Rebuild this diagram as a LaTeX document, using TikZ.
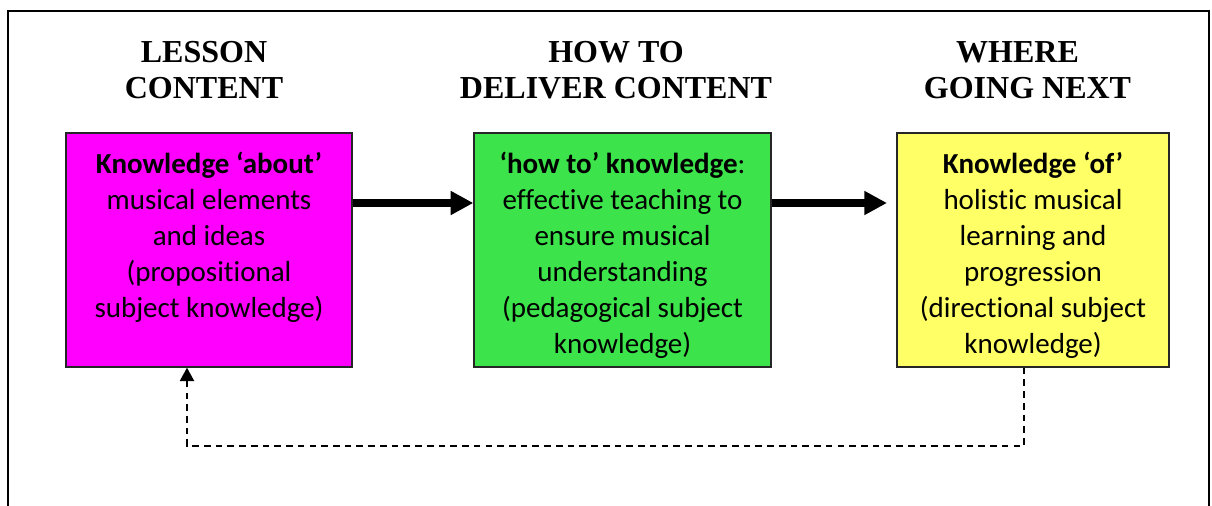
\documentclass[tikz,border=0pt]{standalone}
\usepackage{fontspec}
\setmainfont{Liberation Serif}
\newfontfamily\boxfont[RawFeature={-liga;-clig;-dlig;-calt}]{Carlito}
\usetikzlibrary{arrows.meta}
\definecolor{magbox}{HTML}{FF00FF}
\definecolor{grnbox}{HTML}{3CE34B}
\definecolor{ylwbox}{HTML}{FFFF66}
\begin{document}
\begin{tikzpicture}[x=0.75pt,y=-0.75pt,
  heading/.style={font=\fontsize{24pt}{27pt}\selectfont\bfseries, align=center, anchor=north, inner sep=0pt},
  kbox/.style={draw=black!85, line width=1pt, minimum height=175.5pt, inner sep=0pt},
  ktext/.style={font=\boxfont\fontsize{21.75pt}{27pt}\selectfont, align=center, anchor=north, inner sep=0pt},
  bigarrow/.style={line width=5.5pt, -{Triangle[length=17pt,width=17pt]}},
  backarrow/.style={line width=1.5pt, dash pattern=on 5pt off 3.8pt, -{Triangle[length=10pt,width=10.5pt]}}]
\useasboundingbox (0,0) rectangle (1212,506);
\draw[line width=1.5pt] (8,512) -- (8,11) -- (1209,11) -- (1209,512);
% headings
\node[heading] (h1) at (204,41) {LESSON\\CONTENT};
\node[heading] (h2) at (616,41) {HOW TO\\DELIVER CONTENT};
\node[heading] (h3) at (1027.5,41) {WHERE\hspace*{15pt}\\GOING NEXT};
% boxes
\node[kbox, fill=magbox, minimum width=214.5pt] (b1) at (209,250) {};
\node[kbox, fill=grnbox, minimum width=222.75pt] (b2) at (622.5,250) {};
\node[kbox, fill=ylwbox, minimum width=204pt] (b3) at (1033,250) {};
% texts
\node[ktext] (t1) at (209,152) {\textbf{Knowledge ‘about’}\\musical elements\\and ideas\\(propositional\\subject knowledge)};
\node[ktext] (t2) at (622.5,152) {\textbf{‘how to’ knowledge}:\\effective teaching to\\ensure musical\\understanding\\(pedagogical subject\\knowledge)};
\node[ktext] (t3) at (1033,152) {\textbf{Knowledge ‘of’}\\holistic musical\\learning and\\progression\\(directional subject\\knowledge)};
% arrows
\coordinate (a2end) at (887,203);
\draw[bigarrow] (b1.east |- 0,203) -- (b2.west |- 0,203);
\draw[bigarrow] (b2.east |- 0,203) -- (a2end);
\coordinate (c1) at (1024,446);
\coordinate (c2) at (187,446);
\draw[backarrow] (b3.south -| c1) -- (c1) -- (c2) -- (b1.south -| c2);
\end{tikzpicture}
\end{document}
